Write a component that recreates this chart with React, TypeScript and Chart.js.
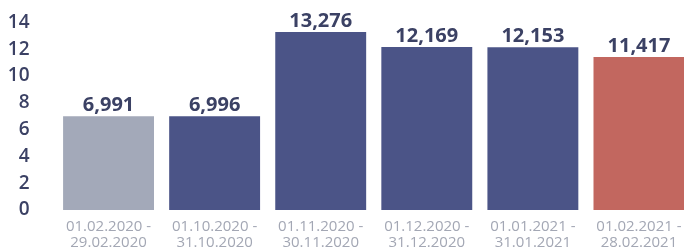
import React, { useEffect, useRef } from "react";
import { Chart, registerables } from "chart.js";

Chart.register(...registerables);

const categories: string[][] = [
  ["01.02.2020 -", "29.02.2020"],
  ["01.10.2020 -", "31.10.2020"],
  ["01.11.2020 -", "30.11.2020"],
  ["01.12.2020 -", "31.12.2020"],
  ["01.01.2021 -", "31.01.2021"],
  ["01.02.2021 -", "28.02.2021"],
];
const values: number[] = [6.991, 6.996, 13.276, 12.169, 12.153, 11.417];
const barColors: string[] = ["#a3a9b9", "#4b5487", "#4b5487", "#4b5487", "#4b5487", "#c2675f"];
const yTicks: number[] = [0, 2, 4, 6, 8, 10, 12, 14];

const TEXT = "#3b4164";

const valueLabels = {
  id: "valueLabels",
  afterDatasetsDraw(chart: any) {
    const ctx = chart.ctx;
    const meta = chart.getDatasetMeta(0);
    ctx.save();
    ctx.font = "bold 20px 'Open Sans'";
    ctx.fillStyle = TEXT;
    ctx.textAlign = "center";
    ctx.textBaseline = "middle";
    meta.data.forEach((bar: any, i: number) => {
      const txt = values[i].toFixed(3).replace(".", ",");
      ctx.fillText(txt, bar.x, bar.y - 11);
    });
    ctx.restore();
  },
};

export default function App() {
  const ref = useRef<HTMLCanvasElement>(null);
  useEffect(() => {
    if (!ref.current) return;
    const chart = new Chart(ref.current, {
      type: "bar",
      data: {
        labels: categories,
        datasets: [
          {
            data: values,
            backgroundColor: barColors,
            borderWidth: 0,
            barPercentage: 0.857,
            categoryPercentage: 1,
          },
        ],
      },
      options: {
        animation: false,
        responsive: false,
        layout: { autoPadding: false, padding: { top: 0, right: 8, left: 0, bottom: 0 } },
        plugins: { legend: { display: false }, tooltip: { enabled: false } },
        scales: {
          x: {
            grid: { display: false },
            border: { display: false },
            ticks: {
              color: "#a3a7b4",
              font: { family: "'Open Sans'", size: 15, lineHeight: 1.1 },
              padding: 0,
              maxRotation: 0,
              autoSkip: false,
            },
            afterFit: (s: any) => {
              s.height = 39;
            },
          },
          y: {
            min: 0,
            max: 14,
            afterBuildTicks: (s: any) => {
              s.ticks = yTicks.map((v) => ({ value: v }));
            },
            grid: { display: false },
            border: { display: false },
            ticks: {
              color: TEXT,
              font: { family: "'Open Sans'", size: 19, weight: "600" },
              padding: 18,
              autoSkip: false,
            },
            afterFit: (s: any) => {
              s.width = 55.5;
            },
          },
        },
      },
      plugins: [valueLabels],
    });
    const off = 22 - chart.chartArea.top;
    ref.current.style.marginTop = off + "px";
    return () => chart.destroy();
  }, []);
  return (
    <div
      style={{
        position: "fixed",
        left: 0,
        top: 0,
        width: 684,
        height: 249,
        overflow: "hidden",
        background: "#ffffff",
      }}
    >
      <canvas ref={ref} width={700} height={256} style={{ display: "block" }} />
    </div>
  );
}
